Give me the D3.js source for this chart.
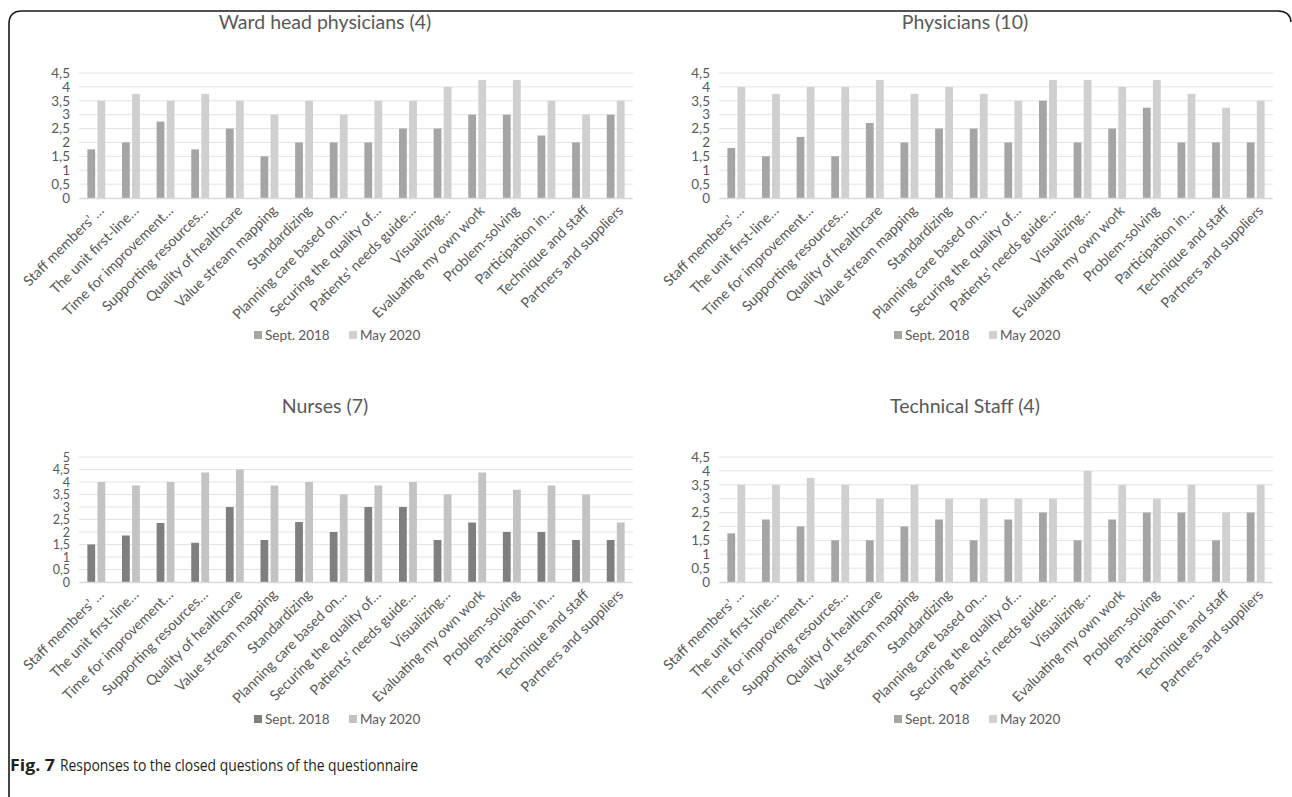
<!DOCTYPE html>
<html><head><meta charset="utf-8">
<script src="https://cdn.jsdelivr.net/npm/d3@7"></script>
<style>
html,body{margin:0;padding:0;background:#fff;}
svg{display:block;}
</style></head>
<body>
<svg id="chart" width="1292" height="797"></svg>
<script>
const categories = ["Staff members’ …","The unit first-line…","Time for improvement…","Supporting resources…","Quality of healthcare","Value stream mapping","Standardizing","Planning care based on…","Securing the quality of…","Patients’ needs guide…","Visualizing…","Evaluating my own work","Problem-solving","Participation in…","Technique and staff","Partners and suppliers"];
const seriesNames = ["Sept. 2018","May 2020"];
const titles = ["Ward head physicians (4)","Physicians (10)","Nurses (7)","Technical Staff (4)"];

const wardSept = [1.75,2,2.75,1.75,2.5,1.5,2,2,2,2.5,2.5,3,3,2.25,2,3];
const wardMay  = [3.5,3.75,3.5,3.75,3.5,3,3.5,3,3.5,3.5,4,4.25,4.25,3.5,3,3.5];
const physSept = [1.8,1.5,2.2,1.5,2.7,2,2.5,2.5,2,3.5,2,2.5,3.25,2,2,2];
const physMay  = [4,3.75,4,4,4.25,3.75,4,3.75,3.5,4.25,4.25,4,4.25,3.75,3.25,3.5];
const nurseSept = [1.5,1.86,2.36,1.57,3,1.68,2.4,2,3,3,1.68,2.38,2,2,1.68,1.68];
const nurseMay  = [4,3.86,4,4.38,4.5,3.86,4,3.5,3.86,4,3.5,4.38,3.69,3.86,3.5,2.38];
const techSept = [1.75,2.25,2,1.5,1.5,2,2.25,1.5,2.25,2.5,1.5,2.25,2.5,2.5,1.5,2.5];
const techMay  = [3.5,3.5,3.75,3.5,3,3.5,3,3,3,3,4,3.5,3,3.5,2.5,3.5];

const ticks45 = [0,0.5,1,1.5,2,2.5,3,3.5,4,4.5];
const ticks5  = [0,0.5,1,1.5,2,2.5,3,3.5,4,4.5,5];

const panels = [
  {title: titles[0], a: wardSept, b: wardMay, ticks: ticks45, ox: 0, oy: 0, ca: "#a5a5a5", cb: "#d0d0d0"},
  {title: titles[1], a: physSept, b: physMay, ticks: ticks45, ox: 640, oy: 0, ca: "#a5a5a5", cb: "#d0d0d0"},
  {title: titles[2], a: nurseSept, b: nurseMay, ticks: ticks5, ox: 0, oy: 384, ca: "#7f7f7f", cb: "#c3c3c3"},
  {title: titles[3], a: techSept, b: techMay, ticks: ticks45, ox: 640, oy: 384, ca: "#a5a5a5", cb: "#d0d0d0"}
];

const svg = d3.select("#chart");
const FONT = "Lato, 'Open Sans', sans-serif";
const TXT = "#595959";

// frame
svg.append("path")
  .attr("d", "M9,797 L9,24 Q9,11 22,11 L1278,11 Q1290,11 1291,22")
  .attr("fill","none").attr("stroke","#1a1a1a").attr("stroke-width",1.6);

const fmt = d => String(d).replace(".", ",");

panels.forEach(p => {
  const g = svg.append("g").attr("transform", `translate(${p.ox},${p.oy})`);
  const x0 = 79, x1 = 633;
  const topY = 73, zeroY = 198;
  const maxV = p.ticks[p.ticks.length-1];
  const x = d3.scaleBand().domain(categories).range([x0, x1]).paddingInner(0).paddingOuter(0);
  const y = d3.scaleLinear().domain([0, maxV]).range([zeroY, topY]);

  g.append("text").attr("x", 325).attr("y", 29).attr("text-anchor","middle")
    .attr("font-family", FONT).attr("font-size", 19.5).attr("fill", TXT).text(p.title);

  // gridlines
  g.append("g").selectAll("line").data(p.ticks.filter(t => t > 0)).join("line")
    .attr("x1", x0).attr("x2", x1).attr("y1", d => y(d)).attr("y2", d => y(d))
    .attr("stroke", "#e3e3e3").attr("stroke-width", 1);

  // y axis labels
  const ya = g.append("g").attr("transform", `translate(${x0},0)`)
    .call(d3.axisLeft(y).tickValues(p.ticks).tickFormat(fmt).tickSize(0).tickPadding(9));
  ya.select(".domain").remove();
  ya.selectAll("text").attr("font-family", FONT).attr("font-size", p.ticks.length > 10 ? 12.5 : 13.5).attr("fill", TXT);

  const bw = x.bandwidth() * 0.225, gap = 2.3;
  const bars = g.append("g");
  bars.selectAll("rect.a").data(p.a).join("rect").attr("class","a")
    .attr("x", (d,i) => x(categories[i]) + x.bandwidth()/2 - gap/2 - bw)
    .attr("width", bw).attr("y", d => y(d)).attr("height", d => zeroY - y(d)).attr("fill", p.ca);
  bars.selectAll("rect.b").data(p.b).join("rect").attr("class","b")
    .attr("x", (d,i) => x(categories[i]) + x.bandwidth()/2 + gap/2)
    .attr("width", bw).attr("y", d => y(d)).attr("height", d => zeroY - y(d)).attr("fill", p.cb);

  // x axis line
  g.append("line").attr("x1", x0).attr("x2", x1).attr("y1", zeroY+0.5).attr("y2", zeroY+0.5)
    .attr("stroke", "#d9d9d9").attr("stroke-width", 1.5);

  // x labels
  g.append("g").selectAll("text").data(categories).join("text")
    .attr("transform", d => `translate(${x(d) + x.bandwidth()/2 + 5},${zeroY + 10}) rotate(-45)`)
    .attr("text-anchor","end").attr("dy","0.35em")
    .attr("font-family", FONT).attr("font-size", 14.2).attr("fill", TXT).text(d => d);

  // legend
  const lg = g.append("g").attr("transform", `translate(254,335)`);
  lg.append("rect").attr("x",0).attr("y",-4).attr("width",8).attr("height",8).attr("fill",p.ca);
  lg.append("text").attr("x",11).attr("y",0).attr("dy","0.35em").attr("font-family",FONT)
    .attr("font-size",13.5).attr("fill",TXT).text(seriesNames[0]);
  lg.append("rect").attr("x",95).attr("y",-4).attr("width",8).attr("height",8).attr("fill",p.cb);
  lg.append("text").attr("x",106).attr("y",0).attr("dy","0.35em").attr("font-family",FONT)
    .attr("font-size",13.5).attr("fill",TXT).text(seriesNames[1]);
});

// caption
svg.append("text").attr("x", 10).attr("y", 771)
  .attr("font-family", "'Open Sans', sans-serif").attr("font-size", 16.5).attr("font-weight", "bold")
  .attr("fill", "#231f20").attr("textLength", 45).attr("lengthAdjust", "spacingAndGlyphs").text("Fig. 7");
svg.append("text").attr("x", 60).attr("y", 771)
  .attr("font-family", "'Open Sans', sans-serif").attr("font-size", 16.5)
  .attr("fill", "#231f20").attr("textLength", 358).attr("lengthAdjust", "spacingAndGlyphs")
  .text("Responses to the closed questions of the questionnaire");
</script>
</body></html>
